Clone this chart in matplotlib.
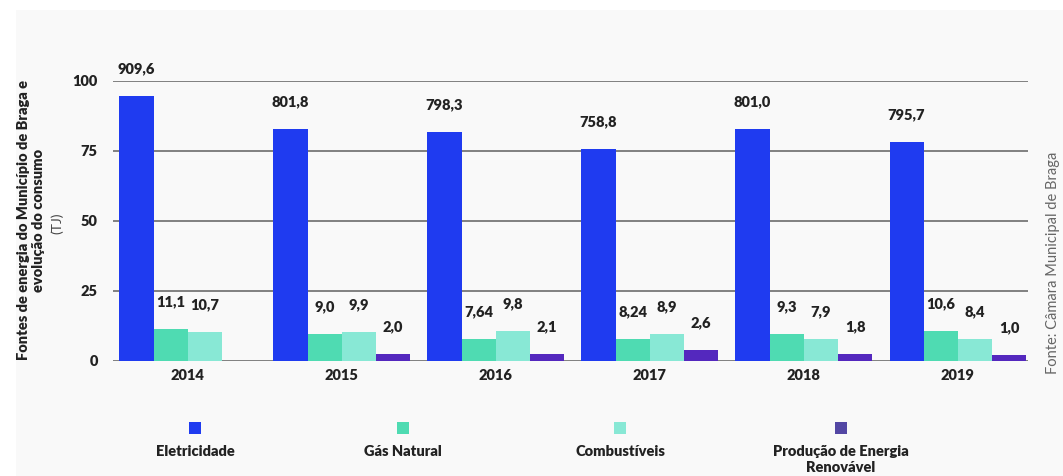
import matplotlib
matplotlib.use('Agg')
import matplotlib.pyplot as plt
from matplotlib.patches import Rectangle
import numpy as np

plt.rcParams['font.family'] = ['Lato', 'DejaVu Sans']

anos = ['2014', '2015', '2016', '2017', '2018', '2019']
series = ['Eletricidade', 'Gás Natural', 'Combustíveis', 'Produção de Energia\nRenovável']
cores = ['#1f3bf0', '#4fdbb2', '#88e8d5', '#5428be']
cores_legenda = ['#1f3bf0', '#4fdbb2', '#88e8d5', '#5347a4']

# alturas das barras (como desenhadas no gráfico original)
eletricidade = [94.6, 82.8, 81.7, 75.6, 82.8, 78.1]
gas_natural = [11.3, 9.6, 7.8, 7.8, 9.6, 10.7]
combustiveis = [10.3, 10.3, 10.7, 9.6, 7.8, 7.8]
renovavel = [0, 2.4, 2.4, 3.8, 2.4, 2.0]

# rótulos de valor
rot_eletricidade = ['909,6', '801,8', '798,3', '758,8', '801,0', '795,7']
rot_gas = ['11,1', '9,0', '7,64', '8,24', '9,3', '10,6']
rot_comb = ['10,7', '9,9', '9,8', '8,9', '7,9', '8,4']
rot_renov = ['', '2,0', '2,1', '2,6', '1,8', '1,0']

dados = [eletricidade, gas_natural, combustiveis, renovavel]
rotulos = [rot_eletricidade, rot_gas, rot_comb, rot_renov]

PESO = 'heavy'

fig = plt.figure(figsize=(10.63, 4.76), dpi=100, facecolor='white')
fig.patches.append(Rectangle((16 / 1063, 0), 1, 1 - 10 / 476, transform=fig.transFigure,
                             facecolor='#f9f9f9', edgecolor='none', zorder=-10))
ax = fig.add_axes([113 / 1063, 1 - 361 / 476, 915 / 1063, 280 / 476])
ax.set_facecolor('none')

x = np.arange(len(anos))
w = 0.222
for i, (vals, labs) in enumerate(zip(dados, rotulos)):
    pos = x + (i - 1.5) * w
    ax.bar(pos, vals, width=w, color=cores[i], zorder=3)
    for px, v, t in zip(pos, vals, labs):
        if t:
            ax.annotate(t, (px, v), xytext=(0, 20), textcoords='offset points',
                        ha='center', va='center', fontsize=10.5, fontweight=PESO,
                        color='#222222', annotation_clip=False)

ax.set_xlim(-0.485, 5.455)
ax.set_ylim(0, 100)
ax.set_yticks([0, 25, 50, 75, 100])
ax.set_xticks(x)
ax.set_xticklabels(anos, fontsize=10.5, fontweight=PESO, color='#222222')
for lab in ax.get_yticklabels():
    lab.set_fontweight(PESO)
    lab.set_fontsize(10.5)
    lab.set_color('#222222')
ax.tick_params(axis='both', length=0)
ax.tick_params(axis='y', pad=11)
ax.tick_params(axis='x', pad=6)
ax.grid(axis='y', color='#777777', linewidth=1.3, zorder=0)
for s in ax.spines.values():
    s.set_visible(False)

fig.text(31 / 1063, 1 - 220 / 476, 'Fontes de energia do Município de Braga e\nevolução do consumo',
         rotation=90, ha='center', va='center', fontsize=10.5, fontweight=PESO,
         color='#222222', multialignment='center', linespacing=1.1)
fig.text(57 / 1063, 1 - 223 / 476, '(TJ)', rotation=90, ha='center', va='center',
         fontsize=10, fontweight='normal', color='#444444')
fig.text(1053 / 1063, 1 - 263 / 476, 'Fonte: Câmara Municipal de Braga', rotation=90,
         ha='center', va='center', fontsize=10.5, color='#666666')

leg_x = [195, 403, 620, 841]
for cx, nome, cor in zip(leg_x, series, cores_legenda):
    fig.patches.append(Rectangle(((cx - 6) / 1063, 1 - 434 / 476), 12 / 1063, 12 / 476,
                                 transform=fig.transFigure, facecolor=cor, edgecolor='none'))
    fig.text(cx / 1063, 1 - 445 / 476, nome, ha='center', va='top', fontsize=10.5,
             fontweight=PESO, color='#222222', linespacing=1.25)

fig.savefig('out.png', dpi=100, facecolor=fig.get_facecolor())
